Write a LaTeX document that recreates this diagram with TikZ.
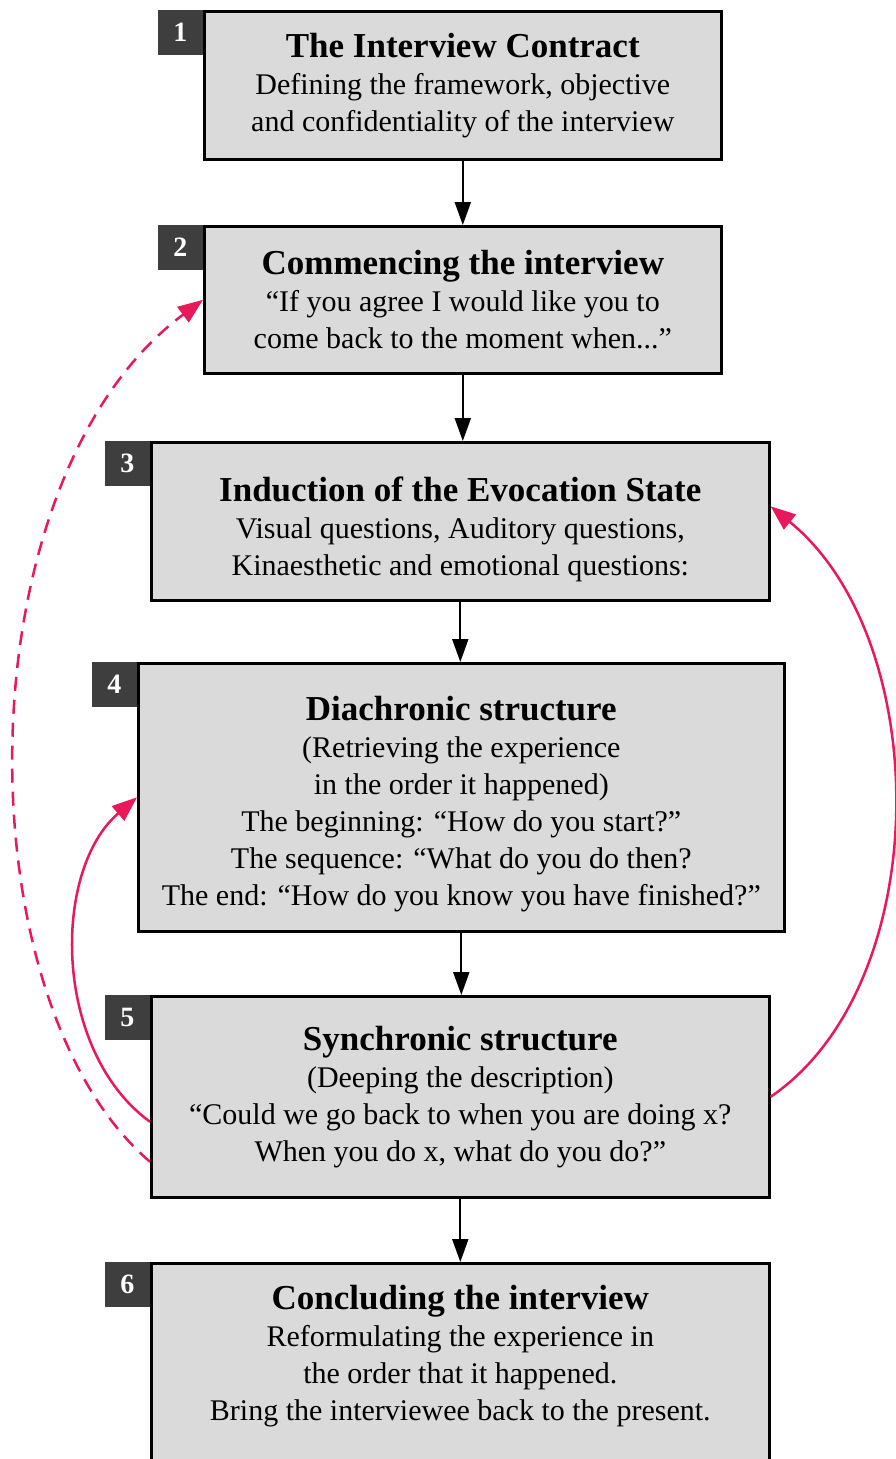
\documentclass[tikz,border=0pt]{standalone}
\usepackage{fontspec}
\setmainfont{Liberation Serif}
\usetikzlibrary{arrows.meta}
\definecolor{loopred}{RGB}{232,24,90}
\definecolor{boxgray}{RGB}{218,218,218}
\definecolor{tabgray}{RGB}{62,62,62}
\tikzset{
  stage/.style={draw=black, line width=2.6pt, fill=boxgray, align=center, inner sep=0pt, anchor=north west,
    font=\fontsize{30}{37}\selectfont},
  tab/.style={fill=tabgray, text=white, font=\bfseries\fontsize{28}{28}\selectfont, inner sep=0pt,
    minimum width=45pt, minimum height=45pt, anchor=north east},
  flow/.style={-{Triangle[length=23pt,width=16pt]}, line width=2pt},
  back/.style={-{Triangle[length=25pt,width=19pt]}, line width=2.5pt, draw=loopred},
}
\newcommand{\heading}[1]{{\bfseries\fontsize{35}{38}\selectfont #1}}
\begin{document}
\begin{tikzpicture}[x=1pt, y=-1pt]
    \useasboundingbox (0,0) rectangle (896,1459);
    
    \node[stage, minimum width=517pt, minimum height=148pt] (s1) at (203,10)
        {\heading{The Interview Contract}\\Defining the framework, objective\\and confidentiality of the interview};
    \node[stage, minimum width=517pt, minimum height=147pt] (s2) at (203,225)
        {\heading{Commencing the interview}\\“If you agree I would like you to\\come back to the moment when...”};
    \node[stage, minimum width=618pt, minimum height=158pt, text height=115pt] (s3) at (150,441)
        {\heading{Induction of the Evocation State}\\Visual questions, Auditory questions,\\Kinaesthetic and emotional questions:};
    \node[stage, minimum width=646pt, minimum height=268pt, text height=222pt] (s4) at (137,662)
        {\heading{Diachronic structure}\\(Retrieving the experience\\in the order it happened)\\The beginning: “How do you start?”\\The sequence: “What do you do then?\\The end: “How do you know you have finished?”};
    \node[stage, minimum width=618pt, minimum height=201pt] (s5) at (150,995)
        {\heading{Synchronic structure}\\(Deeping the description)\\“Could we go back to when you are doing x?\\When you do x, what do you do?”};
    \node[stage, minimum width=618pt, inner ysep=22pt, text depth=80pt] (s6) at (150,1262)
        {\heading{Concluding the interview}\\Reformulating the experience in\\the order that it happened.\\Bring the interviewee back to the present.};
    
    \foreach \n in {1,...,6}
    {
        \node[tab] (t\n) at (s\n.north west) {\n};
    }
    
    \foreach \a/\b in {1/2,2/3,3/4,4/5,5/6}
    {
        \draw[flow] (s\a.south) -- (s\a.south |- s\b.north);
    }
    
    % loops back
    \draw[back] (s5.east) .. controls (935,985) and (935,640) .. ([yshift=15pt]s3.east);
    \draw[back] ([yshift=-25pt]s5.west) .. controls (52,1050) and (52,870) .. (s4.west);
    \draw[back, dashed, dash pattern=on 14pt off 9pt] ([yshift=-65pt]s5.west) .. controls (-39,1000) and (-39,480) .. (s2.west);
    
\end{tikzpicture}
\end{document}
